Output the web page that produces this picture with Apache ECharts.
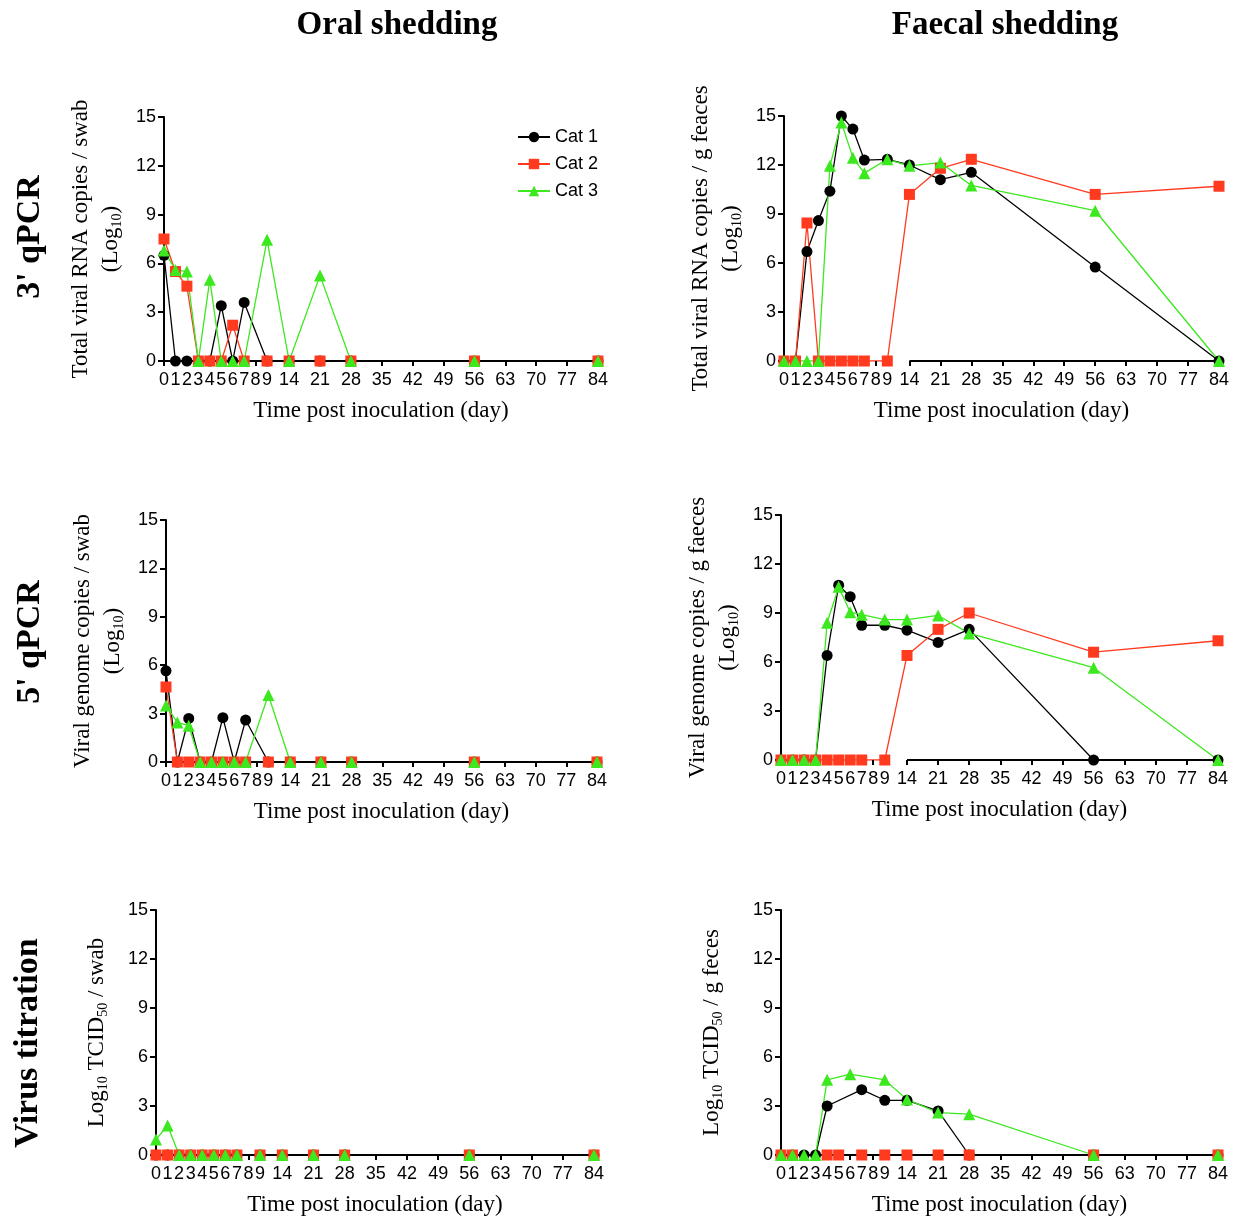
<!DOCTYPE html>
<html>
<head>
<meta charset="utf-8">
<script src="https://cdn.jsdelivr.net/npm/echarts@6/dist/echarts.min.js"></script>
<style>
  html, body { margin: 0; padding: 0; background: #fff; }
  #chart { width: 1236px; height: 1218px; }
</style>
</head>
<body>
<div id="chart"></div>
<script>
// Sampling days (post inoculation) and axis ticks
const DAYS = [0, 1, 2, 3, 4, 5, 6, 7, 9, 14, 21, 28, 56, 84];
const TICK_DAYS = [0, 1, 2, 3, 4, 5, 6, 7, 8, 9, 14, 21, 28, 35, 42, 49, 56, 63, 70, 77, 84];
const Y_TICKS = [0, 3, 6, 9, 12, 15];
const CATS = ['Cat 1', 'Cat 2', 'Cat 3'];

// Oral swabs, 3' qPCR (log10 RNA copies / swab)
const oral3Cat1 = [6.5, 0, 0, 0, 0, 3.4, 0, 3.6, 0, 0, 0, 0, 0, 0];
const oral3Cat2 = [7.5, 5.5, 4.6, 0, 0, 0, 2.2, 0, 0, 0, 0, 0, 0, 0];
const oral3Cat3 = [6.8, 5.6, 5.5, 0, 5.0, 0, 0, 0, 7.45, 0, 5.25, 0, 0, 0];

// Faeces, 3' qPCR (log10 RNA copies / g)
const faecal3Cat1 = [0, 0, 6.7, 8.6, 10.4, 15.0, 14.2, 12.3, 12.35, 12.0, 11.1, 11.55, 5.75, 0];
const faecal3Cat2 = [0, 0, 8.45, 0, 0, 0, 0, 0, 0, 10.2, 11.8, 12.35, 10.2, 10.7];
const faecal3Cat3 = [0, 0, 0, 0, 11.95, 14.6, 12.45, 11.5, 12.35, 11.95, 12.15, 10.75, 9.2, 0];

// Oral swabs, 5' qPCR (log10 genome copies / swab)
const oral5Cat1 = [5.65, 0, 2.7, 0, 0, 2.75, 0, 2.6, 0, 0, 0, 0, 0, 0];
const oral5Cat2 = [4.65, 0, 0, 0, 0, 0, 0, 0, 0, 0, 0, 0, 0, 0];
const oral5Cat3 = [3.5, 2.45, 2.25, 0, 0, 0, 0, 0, 4.15, 0, 0, 0, 0, 0];

// Faeces, 5' qPCR (log10 genome copies / g)
const faecal5Cat1 = [0, 0, 0, 0, 6.4, 10.7, 10.0, 8.25, 8.25, 7.95, 7.2, 8.0, 0, 0];
const faecal5Cat2 = [0, 0, 0, 0, 0, 0, 0, 0, 0, 6.4, 8.0, 9.0, 6.6, 7.3];
const faecal5Cat3 = [0, 0, 0, 0, 8.4, 10.6, 9.05, 8.9, 8.6, 8.6, 8.85, 7.75, 5.65, 0];

// Virus titration, oral swabs (log10 TCID50 / swab)
const oralTitCat1 = [0, 0, 0, 0, 0, 0, 0, 0, 0, 0, 0, 0, 0, 0];
const oralTitCat2 = [0, 0, 0, 0, 0, 0, 0, 0, 0, 0, 0, 0, 0, 0];
const oralTitCat3 = [0.95, 1.8, 0, 0, 0, 0, 0, 0, 0, 0, 0, 0, 0, 0];

// Virus titration, faeces (log10 TCID50 / g); null = not sampled
const faecalTitCat1 = [0, 0, 0, 0, 3.0, null, null, 4.0, 3.35, 3.35, 2.7, 0, 0, 0];
const faecalTitCat2 = [0, 0, null, null, 0, 0, null, 0, 0, 0, 0, 0, 0, 0];
const faecalTitCat3 = [0, 0, 0, 0, 4.6, null, 4.95, null, 4.6, 3.4, 2.6, 2.5, 0, 0];

// Two-segment time scale: first days wide, later weeks compressed
const LATE_RATIO = 0.3853;
function dayPos(d) { return d <= 9 ? d : 9 + (d - 9) * LATE_RATIO; }
const X_MAX = dayPos(84);
const TICK_POS = TICK_DAYS.map(dayPos);
function dayLabel(v) {
  for (const d of TICK_DAYS) if (Math.abs(dayPos(d) - v) < 1e-6) return String(d);
  return '';
}

const COLORS = ['#000000', '#ff3a1f', '#3ce81e'];
const SYMBOLS = ['circle', 'rect', 'triangle'];
const SYMBOL_SIZES = [11, 11, 12];

const SERIF = '"Liberation Serif", "Times New Roman", serif';
const SANS = '"Liberation Sans", Arial, sans-serif';

const LOG10 = 'Log{sub|10}';
const panels = [
  { grid: { left: 164, top: 117, width: 434, height: 244 },
    name: 'Total viral RNA copies / swab\n(' + LOG10 + ')', gap: 38, broken: false,
    data: [oral3Cat1, oral3Cat2, oral3Cat3] },
  { grid: { left: 784, top: 116, width: 435, height: 245 },
    name: 'Total viral RNA copies / g feaces\n(' + LOG10 + ')', gap: 38, broken: true,
    data: [faecal3Cat1, faecal3Cat2, faecal3Cat3] },
  { grid: { left: 166, top: 520, width: 431, height: 242 },
    name: 'Viral genome copies / swab\n(' + LOG10 + ')', gap: 38, broken: false,
    data: [oral5Cat1, oral5Cat2, oral5Cat3] },
  { grid: { left: 781, top: 515, width: 437, height: 245 },
    name: 'Viral genome copies / g faeces\n(' + LOG10 + ')', gap: 38, broken: true,
    data: [faecal5Cat1, faecal5Cat2, faecal5Cat3] },
  { grid: { left: 156, top: 910, width: 438, height: 245 },
    name: LOG10 + ' TCID{sub|50} / swab', gap: 44, broken: false,
    data: [oralTitCat1, oralTitCat2, oralTitCat3] },
  { grid: { left: 781, top: 910, width: 437, height: 245 },
    name: LOG10 + ' TCID{sub|50} / g feces', gap: 54, broken: false,
    data: [faecalTitCat1, faecalTitCat2, faecalTitCat3] }
];

const grids = [], xAxes = [], yAxes = [], series = [];

panels.forEach((p, i) => {
  grids.push(Object.assign({ containLabel: false }, p.grid));

  xAxes.push({
    gridIndex: i, type: 'value', min: 0, max: X_MAX, z: 3,
    name: 'Time post inoculation (day)', nameLocation: 'middle', nameGap: 38,
    nameTextStyle: { fontFamily: SERIF, fontSize: 23, color: '#000' },
    axisLine: { show: !p.broken, onZero: false, lineStyle: { color: '#000', width: 2 } },
    axisTick: { show: true, length: 5, customValues: TICK_POS, lineStyle: { color: '#000', width: 2 } },
    axisLabel: { customValues: TICK_POS, formatter: dayLabel, margin: 10,
      fontFamily: SANS, fontSize: 18, color: '#000' },
    splitLine: { show: false }
  });

  yAxes.push({
    gridIndex: i, type: 'value', min: 0, max: 15, interval: 3, z: 3,
    name: p.name, nameLocation: 'middle', nameGap: p.gap, nameRotate: 90,
    nameTextStyle: { fontFamily: SERIF, fontSize: 23, color: '#000', lineHeight: 30,
      rich: { sub: { fontFamily: SERIF, fontSize: 14, color: '#000', padding: [12, 0, 0, 0] } } },
    axisLine: { show: true, lineStyle: { color: '#000', width: 2 } },
    axisTick: { show: true, length: 6, lineStyle: { color: '#000', width: 2 } },
    axisLabel: { margin: 8, fontFamily: SANS, fontSize: 18, color: '#000' },
    splitLine: { show: false }
  });

  p.data.forEach((vals, c) => {
    const pts = [];
    DAYS.forEach((d, k) => { if (vals[k] !== null) pts.push([dayPos(d), vals[k]]); });
    const line = {
      type: 'line', name: CATS[c], xAxisIndex: i, yAxisIndex: i, data: pts,
      symbol: SYMBOLS[c], symbolSize: SYMBOL_SIZES[c], showSymbol: false,
      itemStyle: { color: COLORS[c] },
      lineStyle: { color: COLORS[c], width: 1.3 }, z: 2, silent: true, animation: false
    };
    if (p.broken && c === 0) {
      // broken time axis: short early segment, gap, then weeks segment with an end cap
      line.markLine = {
        z: 3, silent: true, animation: false, symbol: ['none', 'none'],
        label: { show: false },
        lineStyle: { color: '#000', width: 2, type: 'solid' },
        emphasis: { disabled: true },
        data: [
          [{ coord: [-0.3, 0] }, { coord: [dayPos(9.5), 0] }],
          [{ coord: [dayPos(14), 0] }, { coord: [X_MAX, 0] }],
          [{ coord: [dayPos(14), -0.32] }, { coord: [dayPos(14), 0.32] }]
        ]
      };
    }
    series.push(line);
  });
});

// markers drawn above the axis lines
panels.forEach((p, i) => {
  p.data.forEach((vals, c) => {
    const pts = [];
    DAYS.forEach((d, k) => { if (vals[k] !== null) pts.push([dayPos(d), vals[k]]); });
    series.push({
      type: 'scatter', name: CATS[c], xAxisIndex: i, yAxisIndex: i, data: pts,
      symbol: SYMBOLS[c], symbolSize: SYMBOL_SIZES[c],
      itemStyle: { color: COLORS[c], opacity: 1 }, z: 4, silent: true, animation: false
    });
  });
});

const colFont = 'bold 33px ' + SERIF;
const rowFont = 'bold 34px ' + SERIF;
const graphics = [
  { type: 'text', x: 397, y: 25, style: { text: 'Oral shedding', font: colFont, fill: '#000', align: 'center', verticalAlign: 'middle' } },
  { type: 'text', x: 1005, y: 25, style: { text: 'Faecal shedding', font: colFont, fill: '#000', align: 'center', verticalAlign: 'middle' } },
  { type: 'text', x: 30, y: 237, rotation: Math.PI / 2, style: { text: "3' qPCR", font: rowFont, fill: '#000', align: 'center', verticalAlign: 'middle' } },
  { type: 'text', x: 30, y: 642, rotation: Math.PI / 2, style: { text: "5' qPCR", font: rowFont, fill: '#000', align: 'center', verticalAlign: 'middle' } },
  { type: 'text', x: 28, y: 1043, rotation: Math.PI / 2, style: { text: 'Virus titration', font: rowFont, fill: '#000', align: 'center', verticalAlign: 'middle' } }
];

const chart = echarts.init(document.getElementById('chart'), null, { renderer: 'canvas' });
chart.setOption({
  backgroundColor: '#fff',
  animation: false,
  textStyle: { fontFamily: SANS },
  legend: {
    data: CATS, orient: 'vertical', left: 512, top: 123,
    itemWidth: 32, itemHeight: 13, itemGap: 9,
    textStyle: { fontFamily: SANS, fontSize: 18, color: '#000' },
    selectedMode: false
  },
  grid: grids,
  xAxis: xAxes,
  yAxis: yAxes,
  series: series,
  graphic: graphics
});
</script>
</body>
</html>
